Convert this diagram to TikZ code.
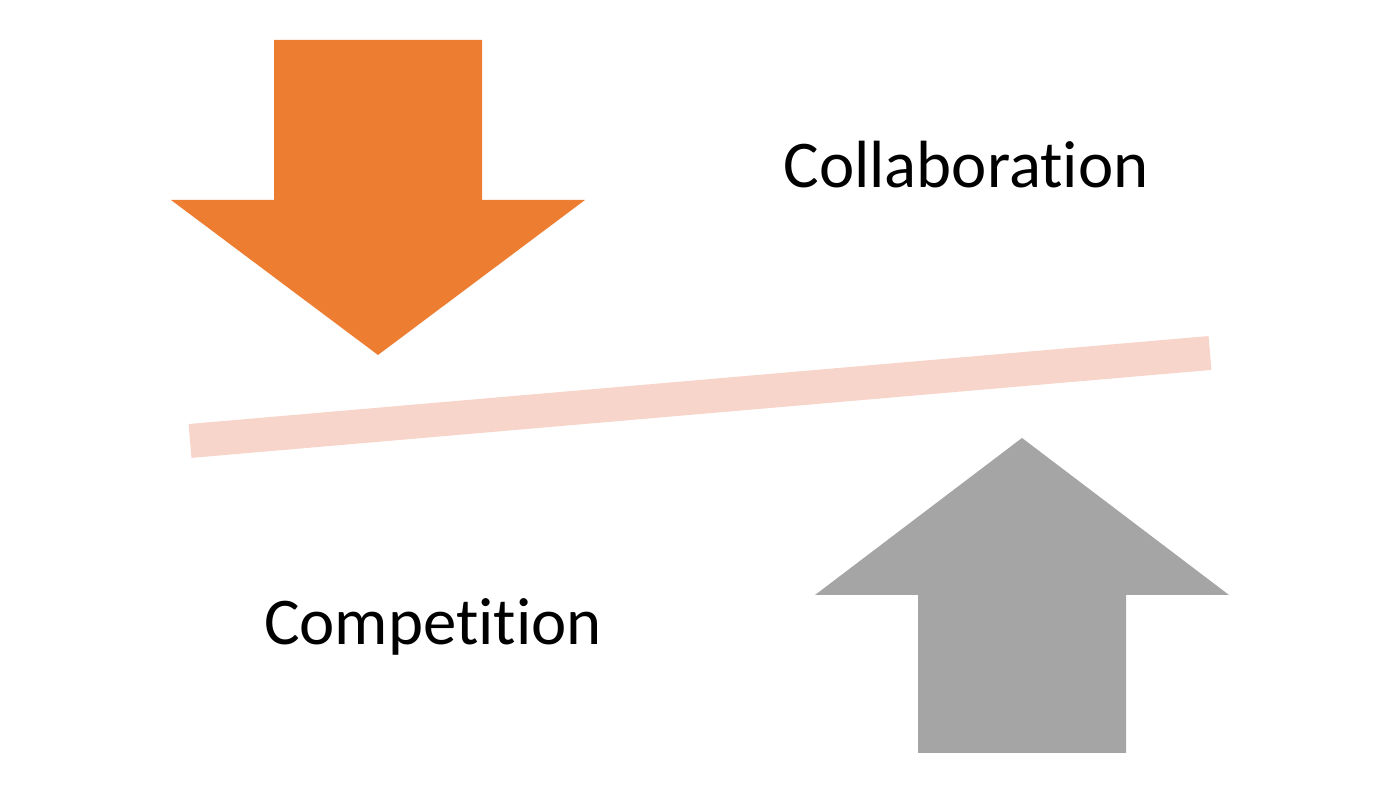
\documentclass[tikz,border=0pt]{standalone}
\usepackage{fontspec}
\setmainfont[Ligatures=NoCommon]{Carlito}
\definecolor{pushorange}{HTML}{ED7D31}
\definecolor{pushgray}{HTML}{A5A5A5}
\definecolor{beampink}{HTML}{F8D5CA}
\tikzset{
    label text/.style={font=\fontsize{19pt}{23pt}\selectfont, inner sep=0pt}
}
\begin{document}
\begin{tikzpicture}
\useasboundingbox (0,0) rectangle (14,7.95);

% down arrow
\fill[pushorange] (2.74,7.55) -- (4.82,7.55) -- (4.82,5.95) -- (5.85,5.95)
    -- (3.78,4.40) -- (1.71,5.95) -- (2.74,5.95) -- cycle;

% tilted beam
\draw[beampink, line width=0.34cm] (1.90,3.54) -- (12.10,4.42);

% up arrow
\fill[pushgray] (10.22,3.57) -- (12.29,2.00) -- (11.26,2.00) -- (11.26,0.42)
    -- (9.18,0.42) -- (9.18,2.00) -- (8.15,2.00) -- cycle;

\node[label text] (collab) at (9.66,6.30) {Collaboration};
\node[label text] (compet) at (4.33,1.68) {Competition};
\end{tikzpicture}
\end{document}
